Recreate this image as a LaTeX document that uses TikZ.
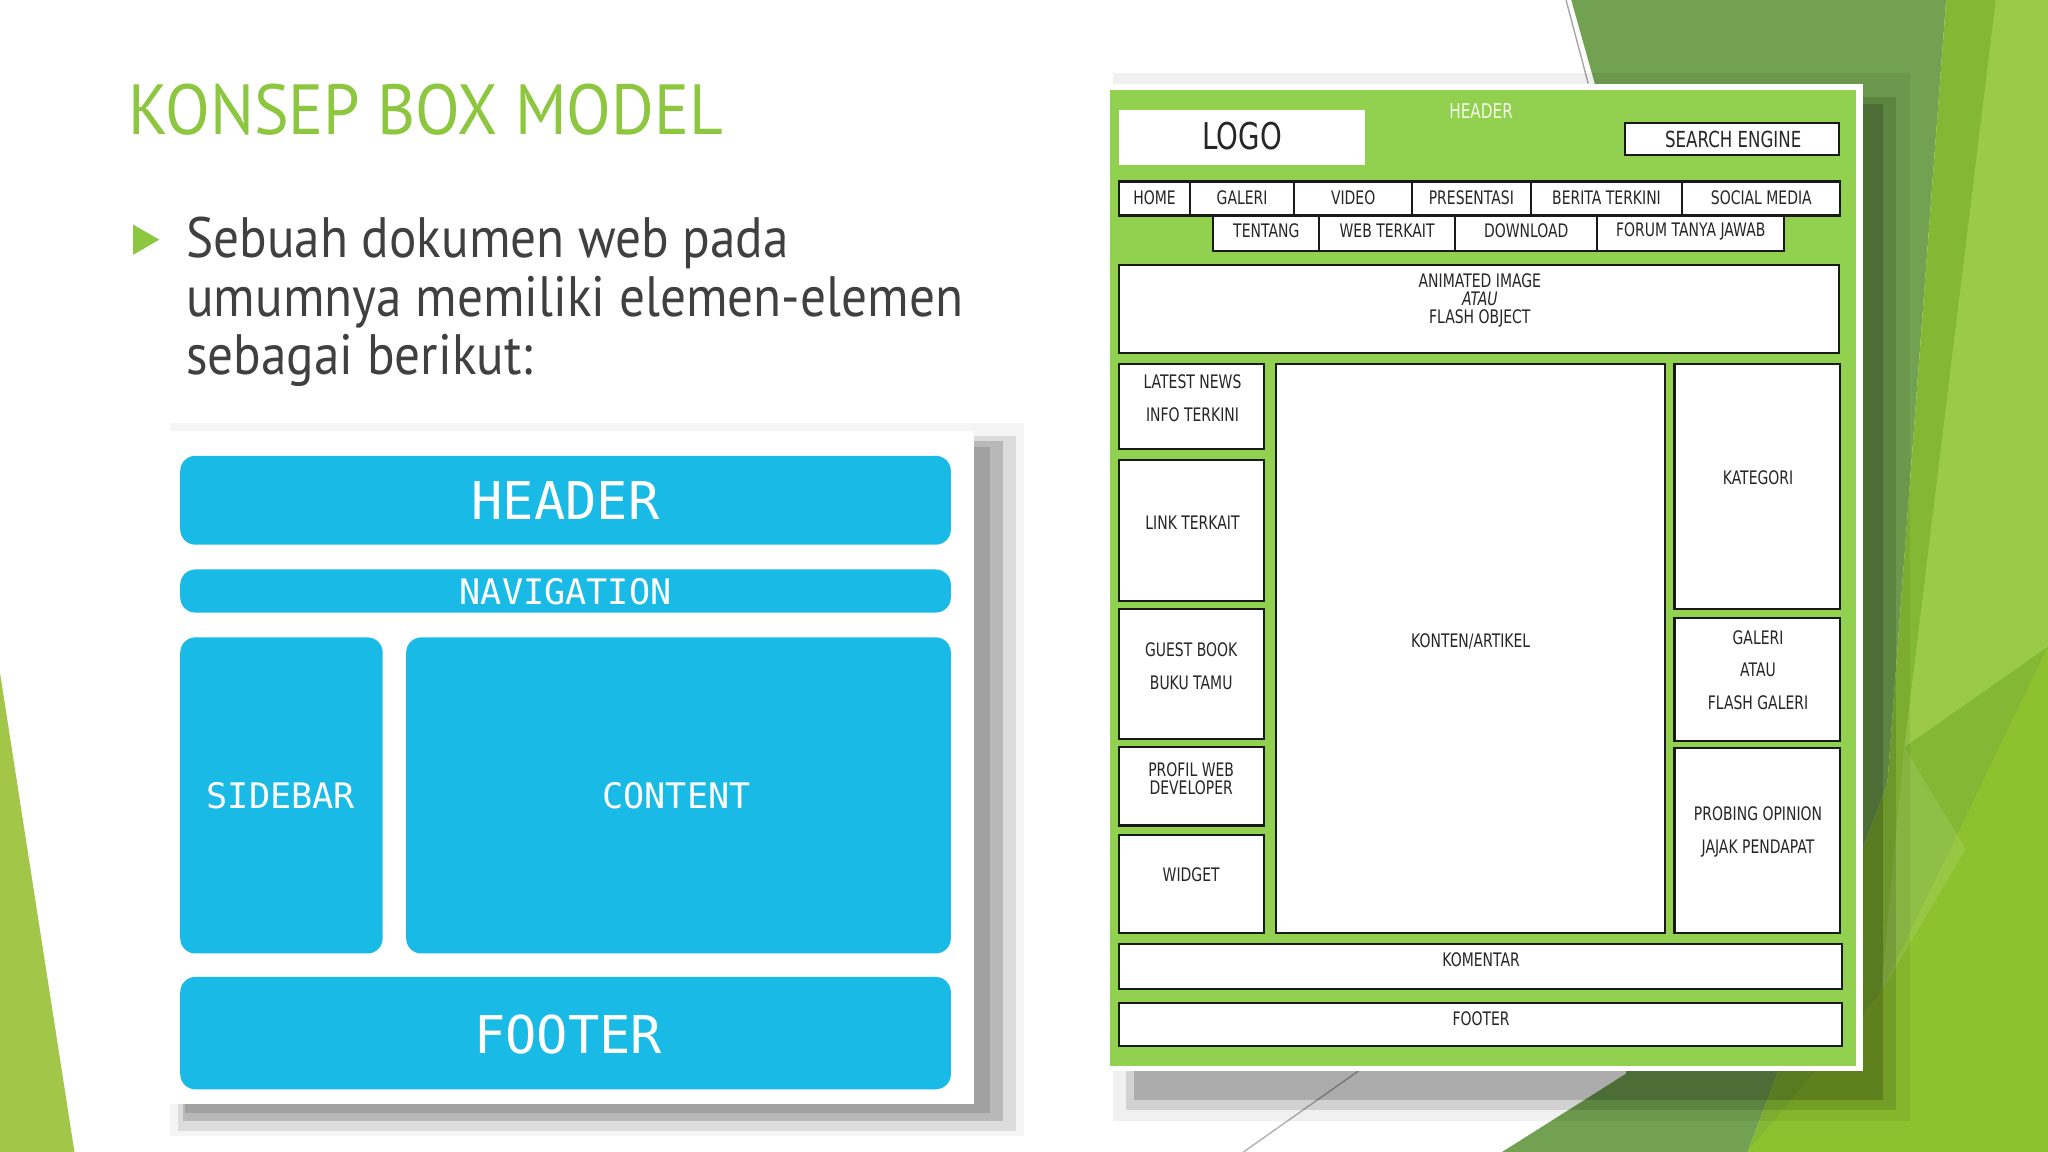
\documentclass[tikz,border=0pt]{standalone}
\usepackage{fontspec}
\setmainfont{PT Sans}[FakeStretch=0.9]
\newfontfamily\titlefont{PT Sans}[FakeStretch=0.92]
\newfontfamily\wirefont{DejaVu Sans}[FakeStretch=0.75]
\newfontfamily\blockfont{DejaVu Sans Mono}
\usepackage{xcolor}
\definecolor{titlegreen}{HTML}{8DC63F}
\definecolor{bodygray}{HTML}{404040}
\definecolor{boxblue}{HTML}{19BBE6}
\definecolor{wiregreen}{HTML}{92D050}
\definecolor{bgleft}{HTML}{A2C748}
\definecolor{bgmuted}{HTML}{72A251}
\definecolor{bgbright}{HTML}{84B834}
\definecolor{bglight}{HTML}{9ACA48}
\definecolor{bglow}{HTML}{8DC12E}

\tikzset{
  blockbox/.style={fill=boxblue, rounded corners=4.3pt},
  blocktext/.style={text=white, inner sep=0pt, font=\blockfont\fontsize{10}{12}\selectfont},
  wirebox/.style={draw=black!90, fill=white, line width=0.6pt},
  wiretext/.style={text=black!85, inner sep=0pt, align=center,
    font=\wirefont\fontsize{5.3}{5.2}\selectfont},
  bodytext/.style={text=bodygray, inner sep=0pt, anchor=base west,
    font=\fontsize{16.2}{19}\selectfont},
}

\begin{document}
\begin{tikzpicture}[x=0.01306cm, y=-0.01306cm]
\useasboundingbox (0,0) rectangle (1568,882);
\fill[white] (0,0) rectangle (1568,882);

% slide background
\fill[bgleft] (0,515) -- (57,882) -- (0,882) -- cycle;
\fill[bgmuted] (1203,0) -- (1490,0) -- (1445,600) -- (1338,882) -- (1150,882) -- (1245,822) -- (1221,64) -- cycle;
\fill[bgbright] (1490,0) -- (1568,0) -- (1568,882) -- (1338,882) -- (1445,600) -- cycle;
\fill[bglight] (1528,0) -- (1568,0) -- (1568,495) -- (1458,572) -- cycle;
\fill[bglow] (1568,495) -- (1568,882) -- (1338,882) -- (1440,760) -- cycle;
\fill[white, opacity=0.1] (1458,572) -- (1505,650) -- (1440,760) -- cycle;
\draw[gray!70, line width=0.4pt] (1199,0) -- (1216,64);
\draw[gray!60, line width=0.4pt] (1040,820) -- (952,882);

% title and bullet
\node[text=titlegreen, inner sep=0pt, anchor=base west, font=\titlefont\fontsize{20.2}{24}\selectfont] (title) at (98,103) {KONSEP BOX MODEL};
\fill[titlegreen] (102,172) -- (122,183.5) -- (102,195) -- cycle;
\node[bodytext] (line1) at (142,197) {Sebuah dokumen web pada};
\node[bodytext] (line2) at (142,242) {umumnya memiliki elemen-elemen};
\node[bodytext] (line3) at (142,287) {sebagai berikut:};

% box model card
\fill[black, opacity=0.04] (130,324) rectangle (784,870);
\fill[black, opacity=0.10] (136,334) rectangle (778,866);
\fill[black, opacity=0.16] (140,338) rectangle (768,858);
\fill[black, opacity=0.12] (142,342) rectangle (758,852);
\fill[white] (125,330) rectangle (746,845);
\fill[blockbox] (138,349) rectangle (728,417);
\node[blocktext, font=\blockfont\fontsize{14.8}{16}\selectfont] (header) at (433,383) {HEADER};
\fill[blockbox] (138,436) rectangle (728,469);
\node[blocktext] (nav) at (433,453) {NAVIGATION};
\fill[blockbox] (138,488) rectangle (293,730);
\node[blocktext] (sidebar) at (215,609) {SIDEBAR};
\fill[blockbox] (311,488) rectangle (728,730);
\node[blocktext] (content) at (518,609) {CONTENT};
\fill[blockbox] (138,748) rectangle (728,834);
\node[blocktext, font=\blockfont\fontsize{14.8}{16}\selectfont] (footer) at (435,792) {FOOTER};

% wireframe card
\fill[black, opacity=0.06] (852,56) rectangle (1462,858);
\fill[black, opacity=0.12] (862,74) rectangle (1452,850);
\fill[black, opacity=0.18] (868,80) rectangle (1442,842);
\fill[white] (846,64) rectangle (1426,820);
\fill[wiregreen] (850,69) rectangle (1421,816);

% top bar
\node[text=white!88!wiregreen, inner sep=0pt, font=\wirefont\fontsize{5.8}{6}\selectfont] (wfhead) at (1134,85) {HEADER};
\fill[white] (857,84) rectangle (1045,126);
\node[text=black!85, inner sep=0pt, font=\wirefont\fontsize{10.5}{12}\selectfont] (logo) at (951,104) {LOGO};
\draw[wirebox] (1244,94) rectangle (1408,119);
\node[wiretext, font=\wirefont\fontsize{6.3}{7}\selectfont] (search) at (1327,107) {SEARCH ENGINE};

% menu rows
\foreach \xa/\xb/\lab [count=\i] in {857/911/HOME, 911/991/GALERI, 991/1081/VIDEO,
    1081/1172/PRESENTASI, 1172/1288/BERITA TERKINI, 1288/1409/SOCIAL MEDIA}{
  \draw[wirebox] (\xa,139) rectangle (\xb,165);
  \node[wiretext] (menuA\i) at ({(\xa+\xb)/2},151) {\lab};
}
\foreach \xa/\xb/\lab [count=\i] in {929/1010/TENTANG, 1010/1114/WEB TERKAIT,
    1114/1223/DOWNLOAD, 1223/1366/FORUM TANYA JAWAB}{
  \draw[wirebox] (\xa,165) rectangle (\xb,192);
  \node[wiretext] (menuB\i) at ({(\xa+\xb)/2},177) {\lab};
}

% banner
\draw[wirebox] (857,203) rectangle (1408,270);
\node[wiretext] (anim) at (1133,230) {ANIMATED IMAGE\\\textit{ATAU}\\FLASH OBJECT};

% left column
\draw[wirebox] (857,279) rectangle (968,344);
\node[wiretext] (news) at (913,305) {LATEST NEWS\\[4pt]INFO TERKINI};
\draw[wirebox] (857,352) rectangle (968,460);
\node[wiretext] (link) at (913,400) {LINK TERKAIT};
\draw[wirebox] (857,466) rectangle (968,566);
\node[wiretext] (guest) at (912,510) {GUEST BOOK\\[4pt]BUKU TAMU};
\draw[wirebox] (857,572) rectangle (968,632);
\node[wiretext] (profil) at (912,596) {PROFIL WEB\\DEVELOPER};
\draw[wirebox] (857,639) rectangle (968,714);
\node[wiretext] (widget) at (912,670) {WIDGET};

% content
\draw[wirebox] (977,279) rectangle (1275,714);
\node[wiretext] (konten) at (1126,491) {KONTEN/ARTIKEL};

% right column
\draw[wirebox] (1282,279) rectangle (1409,466);
\node[wiretext] (kategori) at (1346,366) {KATEGORI};
\draw[wirebox] (1282,473) rectangle (1409,567);
\node[wiretext] (galeri) at (1346,513) {GALERI\\[4pt]ATAU\\[4pt]FLASH GALERI};
\draw[wirebox] (1282,573) rectangle (1409,714);
\node[wiretext] (opini) at (1346,637) {PROBING OPINION\\[4pt]JAJAK PENDAPAT};

% bottom rows
\draw[wirebox] (857,723) rectangle (1410,757);
\node[wiretext] (komentar) at (1134,735) {KOMENTAR};
\draw[wirebox] (857,768) rectangle (1410,801);
\node[wiretext] (wffoot) at (1134,780) {FOOTER};
\end{tikzpicture}
\end{document}
